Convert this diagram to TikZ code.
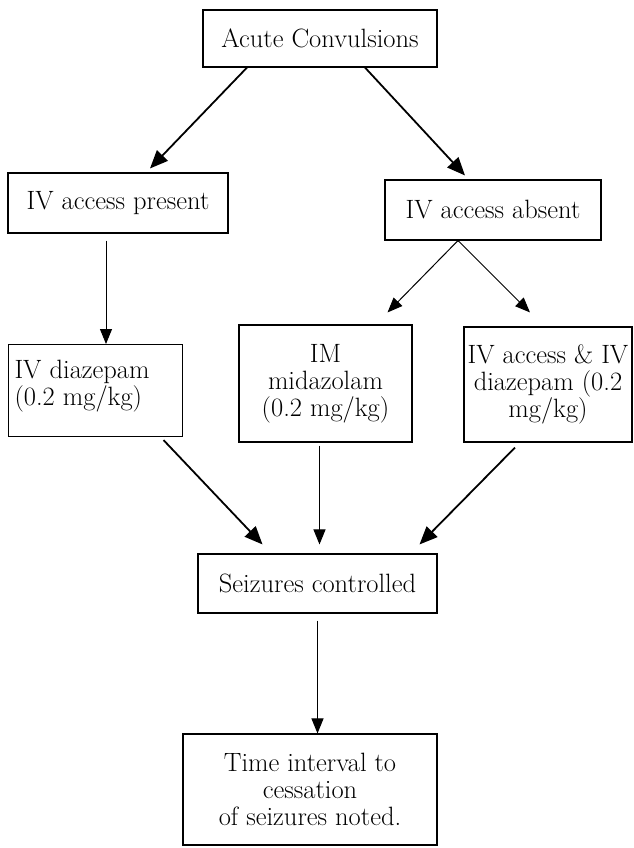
\documentclass[tikz,border=0pt]{standalone}
\usepackage{fontspec}
\usetikzlibrary{arrows.meta}

\begin{document}
\begin{tikzpicture}[x=1pt,y=-1pt,
		kasten/.style={draw,line width=1.1pt,inner sep=0pt,align=center,
			font=\fontsize{26.5}{27}\selectfont},
		dick/.style={line width=1.8pt,-{Triangle[length=18pt,width=15pt]}},
		duenn/.style={line width=1pt,-{Triangle[length=15pt,width=12pt]}}]
	\useasboundingbox (0,0) rectangle (633,848);

	% Kaesten zeichnen
	\node[kasten,minimum width=234pt,minimum height=57pt] (acute) at (320,38.5) {Acute Convulsions};
	\node[kasten,minimum width=220pt,minimum height=60pt] (present) at (118,203) {IV access present};
	\node[kasten,minimum width=216pt,minimum height=60pt] (absent) at (493,210) {IV access absent};
	\node[kasten,anchor=north west,inner xsep=6pt,inner ysep=6pt] (diazepam) at (8,344)
		{\parbox[c][80pt][t]{162pt}{\raggedright\rule{0pt}{28pt}IV diazepam\\(0.2 mg/kg)}};
	\node[kasten,minimum width=173pt,minimum height=117pt] (midazolam) at (325.5,383.5) {IM\\midazolam\\(0.2 mg/kg)};
	\node[kasten,minimum width=168pt,minimum height=115pt] (ivaccess) at (548,384.5) {IV access \& IV\\diazepam (0.2\\mg/kg)};
	\node[kasten,minimum width=239pt,minimum height=59pt] (controlled) at (317.5,583.5) {Seizures controlled};
	\node[kasten,minimum width=254pt,minimum height=111pt] (interval) at (310,789.5) {Time interval to\\cessation\\of seizures noted.};

	% Pfeile zeichnen
	\draw[dick] ([xshift=-73pt]acute.south) to ([xshift=32pt,yshift=4pt]present.north);
	\draw[dick] ([xshift=45pt]acute.south) to ([xshift=-28pt,yshift=4pt]absent.north);
	\draw[duenn,shorten <=7pt] ([xshift=-12pt]present.south) to ([xshift=-12pt]present.south |- diazepam.north);
	\draw[duenn] ([xshift=-35pt]absent.south) to ([xshift=62pt,yshift=12pt]midazolam.north);
	\draw[duenn] ([xshift=-35pt]absent.south) to ([xshift=-18pt,yshift=14pt]ivaccess.north);
	\draw[dick] ([xshift=68pt,yshift=-3pt]diazepam.south) to ([xshift=-55pt,yshift=9pt]controlled.north);
	\draw[duenn,shorten <=3pt,shorten >=9pt] ([xshift=-6pt]midazolam.south) to ([xshift=-6pt]midazolam.south |- controlled.north);
	\draw[dick] ([xshift=-33pt,yshift=-5pt]ivaccess.south) to ([xshift=102pt,yshift=9pt]controlled.north);
	\draw[duenn,shorten <=7pt] (controlled.south) to (controlled.south |- interval.north);
\end{tikzpicture}
\end{document}
